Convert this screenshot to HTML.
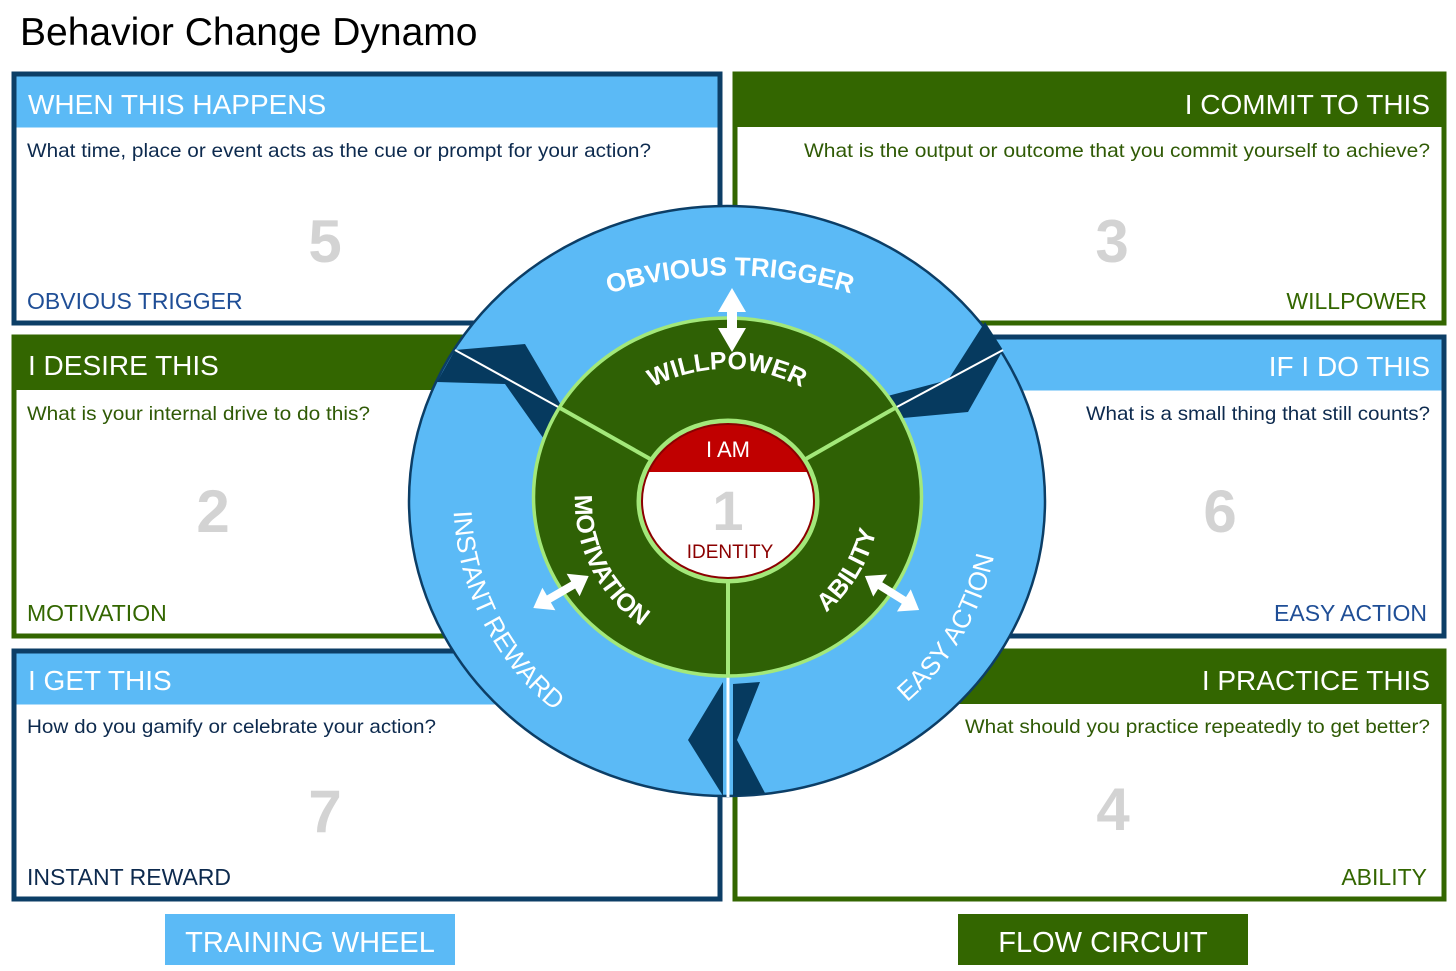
<!DOCTYPE html>
<html><head><meta charset="utf-8"><style>
html,body{margin:0;padding:0;background:#fff;}
svg{display:block;}
text{font-family:"Liberation Sans",sans-serif;}
</style></head><body>
<svg width="1456" height="971" viewBox="0 0 1456 971" xmlns="http://www.w3.org/2000/svg">
<defs>
<path id="pOT" d="M 590 300 A 410 410 0 0 1 870 300"/>
<path id="pWP" d="M 620 410 A 160 160 0 0 1 834 410"/>
<path id="pIR" d="M 455 470 A 272 272 0 0 0 620 750"/>
<path id="pEA" d="M 850 740 A 268 268 0 0 0 1000 500"/>
<path id="pMO" d="M 578 470 A 152 152 0 0 0 680 645"/>
<path id="pAB" d="M 800 630 A 150 150 0 0 0 880 500"/>
<clipPath id="ic"><ellipse cx="728" cy="501" rx="86" ry="77"/></clipPath>
</defs>

<text x="20" y="45" font-size="39" fill="#000">Behavior Change Dynamo</text>

<!-- Left boxes -->
<rect x="14" y="74" width="706" height="249" fill="#fff" stroke="#0c3e66" stroke-width="5"/>
<rect x="16.5" y="76.5" width="701" height="51" fill="#5bbaf6"/>
<text x="28" y="114" font-size="28" fill="#fff">WHEN THIS HAPPENS</text>
<text x="27" y="157" font-size="19.5" fill="#0d2a4e" textLength="624" lengthAdjust="spacingAndGlyphs">What time, place or event acts as the cue or prompt for your action?</text>
<text x="325" y="262" font-size="60" font-weight="bold" fill="#d3d3d3" text-anchor="middle">5</text>
<text x="27" y="309" font-size="23" fill="#1f4e96">OBVIOUS TRIGGER</text>

<rect x="14" y="337" width="706" height="299" fill="#fff" stroke="#336600" stroke-width="5"/>
<rect x="14" y="337" width="706" height="53" fill="#336600"/>
<text x="28" y="375" font-size="28" fill="#fff">I DESIRE THIS</text>
<text x="27" y="420" font-size="19.5" fill="#2f5a05" textLength="343" lengthAdjust="spacingAndGlyphs">What is your internal drive to do this?</text>
<text x="213" y="532" font-size="60" font-weight="bold" fill="#d3d3d3" text-anchor="middle">2</text>
<text x="27" y="621" font-size="23" fill="#336600">MOTIVATION</text>

<rect x="14" y="651" width="706" height="248" fill="#fff" stroke="#0c3e66" stroke-width="5"/>
<rect x="16.5" y="653.5" width="701" height="51" fill="#5bbaf6"/>
<text x="28" y="690" font-size="28" fill="#fff">I GET THIS</text>
<text x="27" y="733" font-size="19.5" fill="#0d2a4e" textLength="409" lengthAdjust="spacingAndGlyphs">How do you gamify or celebrate your action?</text>
<text x="325" y="832" font-size="60" font-weight="bold" fill="#d3d3d3" text-anchor="middle">7</text>
<text x="27" y="885" font-size="23" fill="#0d2a4e">INSTANT REWARD</text>

<!-- Right boxes -->
<rect x="735" y="74" width="709" height="249" fill="#fff" stroke="#336600" stroke-width="5"/>
<rect x="735" y="74" width="709" height="53" fill="#336600"/>
<text x="1430" y="114" font-size="28" fill="#fff" text-anchor="end">I COMMIT TO THIS</text>
<text x="1430" y="157" font-size="19.5" fill="#2f5a05" text-anchor="end" textLength="626" lengthAdjust="spacingAndGlyphs">What is the output or outcome that you commit yourself to achieve?</text>
<text x="1112" y="262" font-size="60" font-weight="bold" fill="#d3d3d3" text-anchor="middle">3</text>
<text x="1427" y="309" font-size="23" fill="#336600" text-anchor="end">WILLPOWER</text>

<rect x="735" y="337" width="709" height="299" fill="#fff" stroke="#0c3e66" stroke-width="5"/>
<rect x="737.5" y="339.5" width="704" height="51" fill="#5bbaf6"/>
<text x="1430" y="376" font-size="28" fill="#fff" text-anchor="end">IF I DO THIS</text>
<text x="1430" y="420" font-size="19.5" fill="#0d2a4e" text-anchor="end" textLength="344" lengthAdjust="spacingAndGlyphs">What is a small thing that still counts?</text>
<text x="1220" y="532" font-size="60" font-weight="bold" fill="#d3d3d3" text-anchor="middle">6</text>
<text x="1427" y="621" font-size="23" fill="#1f4e96" text-anchor="end">EASY ACTION</text>

<rect x="735" y="651" width="709" height="248" fill="#fff" stroke="#336600" stroke-width="5"/>
<rect x="735" y="651" width="709" height="53" fill="#336600"/>
<text x="1430" y="690" font-size="28" fill="#fff" text-anchor="end">I PRACTICE THIS</text>
<text x="1430" y="733" font-size="19.5" fill="#2f5a05" text-anchor="end" textLength="465" lengthAdjust="spacingAndGlyphs">What should you practice repeatedly to get better?</text>
<text x="1113" y="830" font-size="60" font-weight="bold" fill="#d3d3d3" text-anchor="middle">4</text>
<text x="1427" y="885" font-size="23" fill="#336600" text-anchor="end">ABILITY</text>

<!-- Outer ring -->
<ellipse cx="727" cy="501" rx="318" ry="295" fill="#5bbaf6" stroke="#0c3e66" stroke-width="2.5"/>
<polygon points="437,382 455,350 525,344 562,407 546,442 505,384" fill="#063a5f"/>
<polygon points="880,398 948,380 985,322 1003,350 968,412 903,418" fill="#063a5f"/>
<polygon points="723,682 688,740 723,796" fill="#063a5f"/>
<polygon points="733,684 760,682 737,740 765,793 733,796" fill="#063a5f"/>
<line x1="455" y1="350" x2="560" y2="408" stroke="#fff" stroke-width="2"/>
<line x1="1003" y1="350" x2="895" y2="408" stroke="#fff" stroke-width="2"/>
<line x1="728" y1="670" x2="728" y2="797" stroke="#fff" stroke-width="3"/>

<!-- Green ring -->
<ellipse cx="727.5" cy="497" rx="194" ry="179" fill="#2f6105" stroke="#a3e87a" stroke-width="3.5"/>
<line x1="560" y1="408" x2="652" y2="460" stroke="#a3e87a" stroke-width="4"/>
<line x1="895" y1="408" x2="804" y2="460" stroke="#a3e87a" stroke-width="4"/>
<line x1="728" y1="576" x2="728" y2="676" stroke="#a3e87a" stroke-width="4"/>

<!-- inner circle -->
<ellipse cx="728" cy="501" rx="89" ry="80" fill="#fff" stroke="#a3e87a" stroke-width="5"/>
<g clip-path="url(#ic)">
<rect x="630" y="410" width="200" height="62" fill="#c00000"/>
</g>
<ellipse cx="728" cy="501" rx="86" ry="77" fill="none" stroke="#8b0000" stroke-width="2"/>
<text x="728" y="457" font-size="22" fill="#fff" text-anchor="middle">I AM</text>
<text x="728" y="530" font-size="56" font-weight="bold" fill="#d3d3d3" text-anchor="middle">1</text>
<text x="730" y="558" font-size="19" fill="#8b0000" text-anchor="middle">IDENTITY</text>

<!-- arrows -->
<g fill="#fff">
<polygon points="732,288 746,312 737,312 737,328 746,328 732,352 718,328 727,328 727,312 718,312"/>
<g transform="translate(561,592) rotate(-30)">
<polygon points="-32,0 -14,-13 -14,-4 14,-4 14,-13 32,0 14,13 14,4 -14,4 -14,13"/>
</g>
<g transform="translate(892,593) rotate(32)">
<polygon points="-32,0 -14,-13 -14,-4 14,-4 14,-13 32,0 14,13 14,4 -14,4 -14,13"/>
</g>
</g>

<!-- ring labels -->
<g fill="#fff" font-weight="bold">
<text font-size="26"><textPath href="#pOT" startOffset="50%" text-anchor="middle">OBVIOUS TRIGGER</textPath></text>
<text font-size="25"><textPath href="#pWP" startOffset="50%" text-anchor="middle">WILLPOWER</textPath></text>
<text font-size="26" font-weight="normal"><textPath href="#pIR" startOffset="45%" text-anchor="middle">INSTANT REWARD</textPath></text>
<text font-size="26" font-weight="normal"><textPath href="#pEA" startOffset="52%" text-anchor="middle">EASY ACTION</textPath></text>
<text font-size="25"><textPath href="#pMO" startOffset="46%" text-anchor="middle">MOTIVATION</textPath></text>
<text font-size="25"><textPath href="#pAB" startOffset="50%" text-anchor="middle">ABILITY</textPath></text>
</g>

<!-- bottom buttons -->
<rect x="165" y="914" width="290" height="51" fill="#5bbaf6"/>
<text x="310" y="952" font-size="29" fill="#fff" text-anchor="middle">TRAINING WHEEL</text>
<rect x="958" y="914" width="290" height="51" fill="#336600"/>
<text x="1103" y="952" font-size="29" fill="#fff" text-anchor="middle">FLOW CIRCUIT</text>
</svg>
</body></html>
